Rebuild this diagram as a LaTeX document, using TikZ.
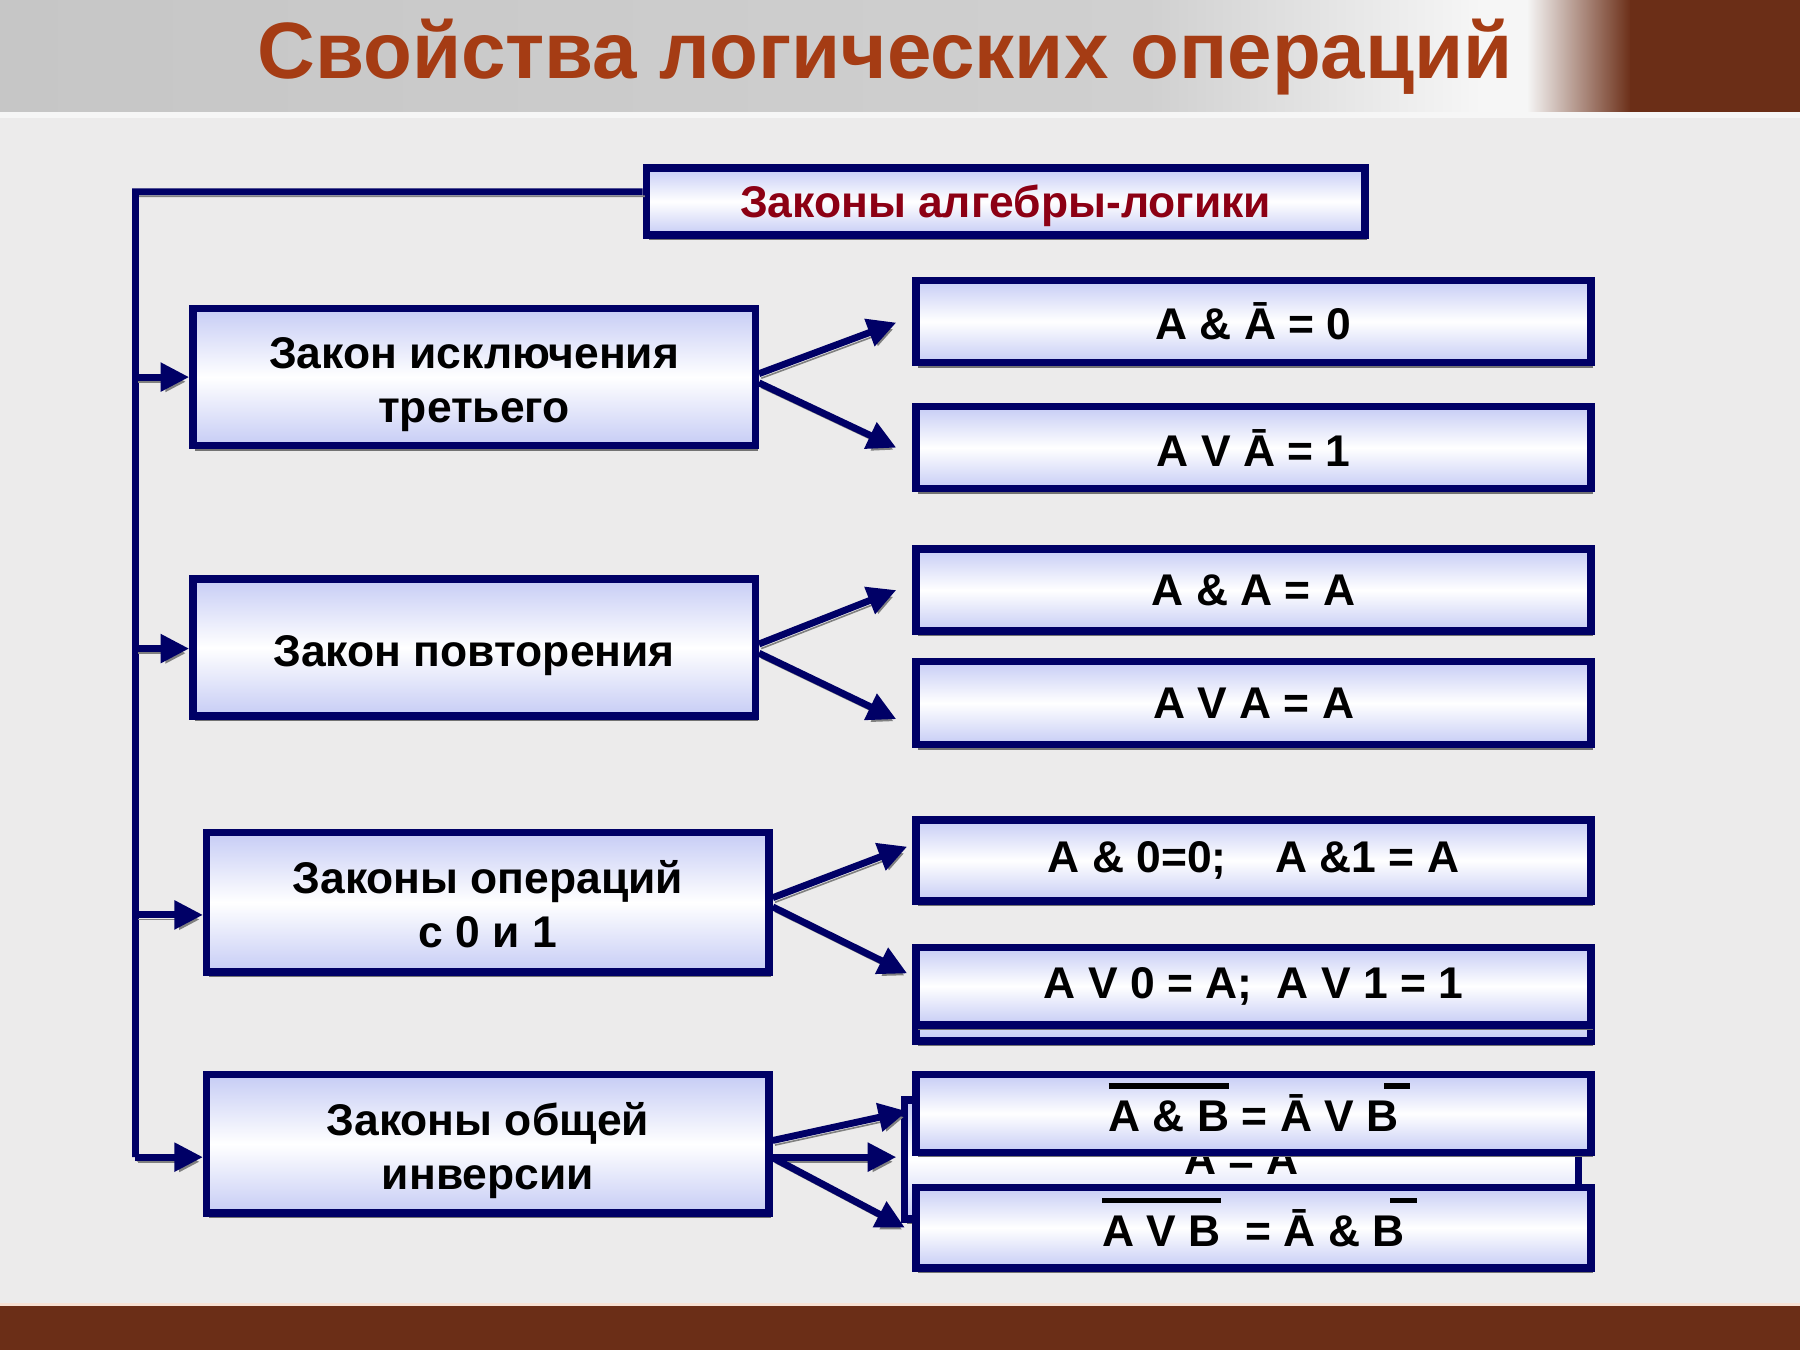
\documentclass[tikz,border=0pt]{standalone}
\usepackage{fontspec}
\setmainfont{Liberation Sans}
\usetikzlibrary{arrows.meta,shadows,calc}
\definecolor{navy}{RGB}{0,0,102}
\definecolor{lav}{RGB}{198,204,245}
\definecolor{bgc}{RGB}{236,235,235}
\definecolor{brn}{RGB}{107,46,23}
\definecolor{ttl}{RGB}{165,60,20}
\definecolor{hdrred}{RGB}{140,0,20}
\definecolor{gA}{RGB}{198,198,198}
\definecolor{gB}{RGB}{208,208,208}
\definecolor{gW}{RGB}{246,246,246}
\definecolor{pinkline}{RGB}{248,225,212}
\newcommand{\ovl}[1]{\setbox0\hbox{#1}\rlap{\smash{\raisebox{10.6pt}{\rule{\wd0}{1.4pt}}}}\box0\relax}
\newcommand{\ovlB}[1]{\setbox0\hbox{#1}\rlap{\hspace{0.55\wd0}\smash{\raisebox{10.6pt}{\rule{0.82\wd0}{1.4pt}}}}\box0\relax}
\tikzset{
  box/.style={draw=navy, line width=0.065cm, top color=lav, bottom color=lav, middle color=white,
    align=center, font=\bfseries\fontsize{11}{13.5}\selectfont, inner sep=0pt,
    drop shadow={shadow xshift=0.02cm, shadow yshift=-0.045cm, fill=gray!90!black, opacity=1}},
  lbox/.style={box, minimum width=4.895cm, minimum height=1.195cm, text height=22.6pt, text depth=0pt},
  lbox1/.style={box, minimum width=4.895cm, minimum height=1.195cm, text height=9.2pt, text depth=0pt},
  rbox/.style={box, minimum width=5.875cm, minimum height=0.715cm},
  shad/.style={preaction={draw=gray, transform canvas={xshift=0.02cm,yshift=-0.04cm}}},
  conn/.style={navy, line width=0.06cm, -{Triangle[length=0.25cm,width=0.24cm]}, shad},
  busline/.style={navy, line width=0.06cm, shad}
}
\begin{document}
\begin{tikzpicture}[x=0.01cm,y=-0.01cm]
\useasboundingbox (0,0) rectangle (1568,1176);
% background
\fill[bgc] (0,0) rectangle (1568,1176);
\fill[left color=gA, right color=gB] (0,0) rectangle (1001,98);
\fill[left color=gB, right color=gW] (1000,0) rectangle (1291,98);
\fill[gW] (1290,0) rectangle (1331,98);
\fill[left color=gW, right color=brn] (1330,0) rectangle (1421,98);
\fill[brn] (1420,0) rectangle (1568,98);
\fill[gW] (0,98) rectangle (1568,103);
\fill[brn] (0,1138) rectangle (1568,1176);
\fill[pinkline] (0,1135) rectangle (1568,1138);
% title
\node[font=\bfseries\fontsize{19.8}{22}\selectfont, text=ttl] (title) at (771,50) {Свойства логических операций};
% header
\node[box, minimum width=6.255cm, minimum height=0.585cm, font=\bfseries\fontsize{11}{12}\selectfont, text=hdrred, text height=8pt, text depth=0pt] (hdr) at (876,175.5) {Законы алгебры-логики};
% left boxes
\node[lbox] (L1) at (413,328.5) {Закон исключения\\третьего};
\node[lbox1] (L2) at (413,564) {Закон повторения};
\node[lbox, minimum height=1.215cm] (L3) at (425,786) {Законы операций\\с 0 и 1};
\node[lbox, minimum height=1.205cm] (L4) at (425,996.5) {Законы общей\\инверсии};
% right boxes
\node[rbox] (R1) at (1092,280) {A \& Ā = 0};
\node[rbox] (R2) at (1092,390) {A V Ā = 1};
\node[rbox] (R3) at (1092,514) {A \& A = A};
\node[rbox, minimum height=0.725cm] (R4) at (1092,612.5) {A V A = A};
\node[rbox, minimum height=0.705cm] (R5) at (1092,749.5) {A \& 0=0;\hspace{1.1em}A \&1 = A};
\node[rbox, minimum height=0.815cm] (R6b) at (1092,866) {};
\node[rbox, minimum height=0.675cm] (R6) at (1092,859) {A V 0 = A;\ \ A V 1 = 1};
\node[rbox, minimum width=5.865cm, minimum height=1.035cm] (H) at (1081.5,1010) {A = A};
\node[rbox, minimum height=0.675cm] (R7) at (1092,970) {\ovl{A \& B} = Ā V \ovlB{B}};
\node[rbox, minimum height=0.705cm] (R8) at (1092,1069.5) {\ovl{A V B}\ \ = Ā \& \ovlB{B}};
% bus
\coordinate (bt) at (118,167);
\coordinate (b1) at (118,328.5);
\coordinate (b2) at (118,565);
\coordinate (b3) at (118,797);
\coordinate (b4) at (118,1008);
\draw[busline] ([yshift=0.085cm]hdr.west) -- (bt) -- (b4);
\draw[conn] (b1) -- (L1.west);
\draw[conn] (b2) -- (L2.west |- b2);
\draw[conn] (b3) -- (L3.west |- b3);
\draw[conn] (b4) -- (L4.west |- b4);
% branches
\draw[conn] ([yshift=0.03cm]L1.east) -- ([xshift=-0.14cm,yshift=-0.01cm]R1.west);
\draw[conn] ([yshift=-0.05cm]L1.east) -- ([xshift=-0.14cm]R2.west);
\draw[conn] ([yshift=0.03cm]L2.east) -- ([xshift=-0.14cm]R3.west);
\draw[conn] ([yshift=-0.05cm]L2.east) -- ([xshift=-0.14cm,yshift=-0.14cm]R4.west);
\draw[conn] ([yshift=0.04cm]L3.east) -- ([xshift=-0.045cm,yshift=0.12cm]R5.west);
\draw[conn] ([yshift=-0.04cm]L3.east) -- ([xshift=-0.045cm,yshift=0.11cm]R6.west);
\draw[conn] ([yshift=0.03cm]L4.east) -- ([xshift=-0.045cm,yshift=0.02cm]R7.west);
\draw[conn] (L4.east |- b4) -- ([xshift=-0.04cm]H.west |- b4);
\draw[conn] ([yshift=-0.12cm]L4.east) -- ([xshift=-0.065cm]R8.west);
\end{tikzpicture}
\end{document}
